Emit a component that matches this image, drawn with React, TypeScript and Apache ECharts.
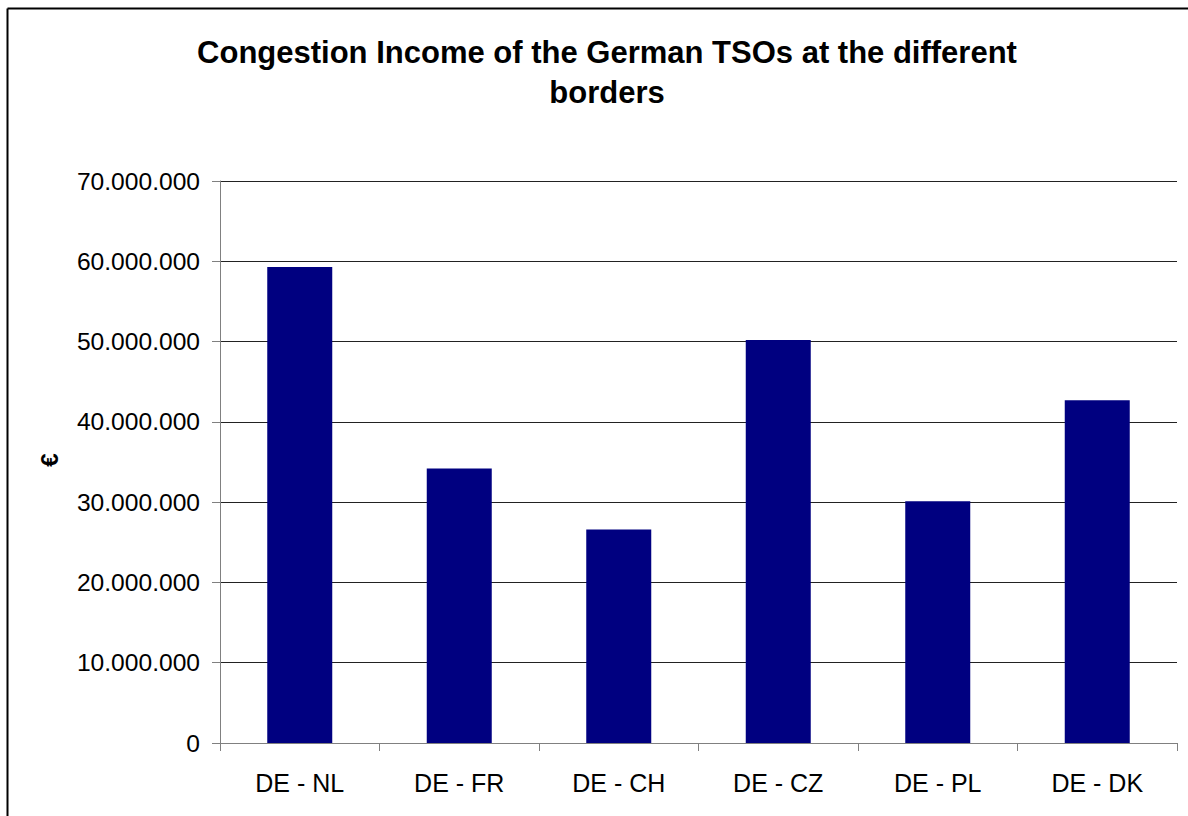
import React, { useEffect, useRef } from "react";
import * as echarts from "echarts";

const categories = ["DE - NL", "DE - FR", "DE - CH", "DE - CZ", "DE - PL", "DE - DK"];
const congestionIncome = [59300000, 34200000, 26600000, 50200000, 30100000, 42700000];
const titleText = "Congestion Income of the German TSOs at the different\nborders";
const yAxisName = "€";

const FONT = "'Liberation Sans', Arial, sans-serif";

function formatDots(v: number): string {
  const s = Math.round(v).toString();
  return s.replace(/\B(?=(\d{3})+(?!\d))/g, ".");
}

export default function App() {
  const ref = useRef<HTMLDivElement>(null);
  useEffect(() => {
    if (!ref.current) return;
    const chart = echarts.init(ref.current, null, { renderer: "svg" });
    chart.setOption({
      animation: false,
      backgroundColor: "#ffffff",
      title: {
        text: titleText,
        left: 607,
        top: 32,
        textAlign: "center",
        padding: 0,
        textStyle: {
          fontFamily: FONT,
          fontWeight: "bold",
          fontSize: 31,
          lineHeight: 40,
          color: "#000",
        },
      },
      graphic: [
        {
          type: "line",
          shape: { x1: 7.5, y1: 8.5, x2: 1188, y2: 8.5 },
          style: { stroke: "#000", lineWidth: 2 },
          silent: true,
          z: 100,
        },
        {
          type: "line",
          shape: { x1: 7.5, y1: 8.5, x2: 7.5, y2: 816 },
          style: { stroke: "#000", lineWidth: 2 },
          silent: true,
          z: 100,
        },
        {
          type: "text",
          x: 49,
          y: 460,
          rotation: Math.PI / 2,
          style: {
            text: yAxisName,
            font: `bold 24px ${FONT}`,
            fill: "#000",
            textAlign: "center",
            textVerticalAlign: "middle",
          },
        },
      ],
      grid: {
        left: 220,
        right: 11,
        top: 181,
        bottom: 73,
        containLabel: false,
      },
      xAxis: {
        type: "category",
        data: categories,
        axisLine: { lineStyle: { color: "#808080", width: 1 } },
        axisTick: { show: true, length: 8, lineStyle: { color: "#808080" } },
        axisLabel: {
          fontFamily: FONT,
          fontSize: 25,
          color: "#000",
          margin: 27,
        },
      },
      yAxis: {
        type: "value",
        min: 0,
        max: 70000000,
        interval: 10000000,
        axisLine: { show: true, lineStyle: { color: "#808080", width: 1 } },
        axisTick: { show: true, length: 8, lineStyle: { color: "#808080" } },
        splitLine: { show: true, lineStyle: { color: "#222", width: 1 } },
        axisLabel: {
          fontFamily: FONT,
          fontSize: 24.6,
          color: "#000",
          margin: 20,
          formatter: (v: number) => formatDots(v),
        },
      },
      series: [
        {
          type: "bar",
          data: congestionIncome,
          barWidth: 65,
          itemStyle: { color: "#000080" },
        },
      ],
    });
    return () => chart.dispose();
  }, []);
  return (
    <div
      ref={ref}
      style={{ position: "fixed", left: 0, top: 0, width: 1188, height: 816 }}
    />
  );
}
